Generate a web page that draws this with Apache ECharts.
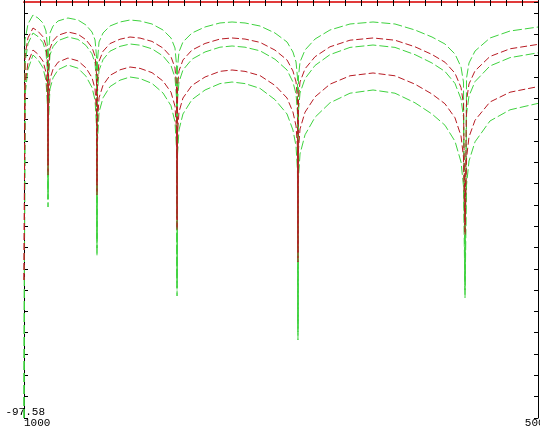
<!DOCTYPE html>
<html><head><meta charset="utf-8">
<script src="https://cdn.jsdelivr.net/npm/echarts@6/dist/echarts.min.js"></script>
<style>html,body{margin:0;padding:0;background:#fff}#c{width:540px;height:426px}</style>
</head><body><div id="c"></div>
<script>
const freqs = [1000,1008,1031,1070,1109,1148,1171,1183,1187,1191,1202,1226,1265,1342,1420,1482,1529,1553,1564,1568,1572,1584,1615,1669,1747,1825,1903,1996,2082,2144,2175,2187,2191,2195,2206,2237,2307,2409,2525,2619,2720,2837,2953,3047,3093,3117,3128,3132,3136,3148,3187,3265,3381,3537,3716,3887,4043,4175,4276,4354,4401,4420,4432,4444,4463,4510,4626,4782,5000];

const green1 = [-97.58,
 -8.91,-5.16,-3.05,-3.75,-4.93,-6.80,-10.56,
 -44.33,
 -11.96,-7.27,-5.63,-4.45,-3.75,-4.22,-5.39,-7.03,-8.91,-12.66,
 -55.83,
 -13.60,-9.38,-7.27,-5.63,-4.69,-4.22,-4.45,-5.16,-6.57,-8.44,-10.79,-14.78,
 -65.21,
 -15.25,-11.73,-9.38,-7.27,-5.86,-4.92,-4.69,-4.92,-5.63,-7.27,-9.38,-11.73,-14.07,-17.59,
 -75.53,
 -17.59,-14.07,-11.26,-8.68,-6.57,-5.16,-4.69,-5.16,-6.57,-8.21,-9.85,-12.20,-15.25,-18.76,
 -65.68,
 -17.83,-14.31,-11.50,-8.45,-6.81,-5.87];

const red1 = [-65.21,
 -12.55,-8.42,-6.10,-6.87,-8.17,-10.23,-14.36,
 -38.23,
 -16.07,-10.91,-9.11,-7.81,-7.04,-7.56,-8.84,-10.65,-12.72,-16.84,
 -42.93,
 -18.53,-13.89,-11.57,-9.76,-8.73,-8.21,-8.46,-9.24,-10.80,-12.85,-15.44,-19.83,
 -51.14,
 -20.06,-16.18,-13.60,-11.28,-9.73,-8.69,-8.44,-8.69,-9.47,-11.28,-13.60,-16.18,-18.76,-22.63,
 -58.64,
 -22.63,-18.76,-15.67,-12.83,-10.51,-8.96,-8.44,-8.96,-10.51,-12.31,-14.12,-16.70,-20.06,-23.92,
 -52.31,
 -23.10,-19.23,-16.14,-12.78,-10.98,-9.94];

const green2 = [-97.58,
 -14.30,-9.80,-7.27,-8.11,-9.53,-11.77,-16.28,
 -46.21,
 -18.06,-12.43,-10.47,-9.05,-8.21,-8.77,-10.18,-12.15,-14.40,-18.90,
 -57.70,
 -21.11,-16.04,-13.51,-11.54,-10.41,-9.85,-10.13,-10.98,-12.67,-14.91,-17.73,-22.52,
 -67.09,
 -22.99,-18.77,-15.95,-13.42,-11.72,-10.60,-10.32,-10.60,-11.45,-13.42,-15.95,-18.77,-21.58,-25.80,
 -77.41,
 -25.57,-21.35,-17.97,-14.88,-12.35,-10.65,-10.09,-10.65,-12.35,-14.31,-16.28,-19.10,-22.76,-26.97,
 -67.56,
 -26.27,-22.05,-18.67,-15.01,-13.05,-11.92];

const red2 = [-65.21,
 -19.46,-14.21,-11.26,-12.24,-13.89,-16.51,-21.77,
 -40.58,
 -24.63,-18.07,-15.77,-14.12,-13.14,-13.80,-15.44,-17.73,-20.36,-25.61,
 -45.27,
 -28.38,-22.47,-19.52,-17.22,-15.91,-15.25,-15.57,-16.57,-18.54,-21.16,-24.45,-30.03,
 -53.48,
 -30.73,-25.81,-22.52,-19.56,-17.59,-16.27,-15.95,-16.27,-17.27,-19.56,-22.52,-25.81,-29.08,-34.01,
 -60.99,
 -34.71,-29.78,-25.85,-22.24,-19.28,-17.31,-16.65,-17.31,-19.28,-21.58,-23.87,-27.16,-31.43,-36.35,
 -54.65,
 -36.59,-31.66,-27.73,-23.46,-21.16,-19.85];

const green3 = [-97.58,
 -21.81,-15.81,-12.43,-13.55,-15.44,-18.43,-24.45,
 -48.09,
 -27.92,-20.41,-17.79,-15.90,-14.78,-15.53,-17.40,-20.03,-23.04,-29.04,
 -59.58,
 -32.60,-25.85,-22.47,-19.85,-18.34,-17.59,-17.96,-19.09,-21.35,-24.34,-28.10,-34.49,
 -68.96,
 -35.67,-30.03,-26.27,-22.90,-20.64,-19.14,-18.77,-19.14,-20.27,-22.90,-26.27,-30.03,-33.78,-39.41,
 -79.28,
 -41.28,-35.65,-31.15,-27.02,-23.65,-21.39,-20.64,-21.39,-23.65,-26.27,-28.90,-32.66,-37.54,-43.15,
 -69.43,
 -42.92,-37.29,-32.79,-27.91,-25.29,-23.78];

const xMin = 1000, xMax = 5000;
const yMin = -97.58, yMax = 0;
const xTickLabels = ['1000', '5000'];
const yTickLabels = ['-97.58'];

const GREEN = '#3fd23f', RED = '#b81c24';
function mk(name, vals, color, dash) {
  return { name, type: 'line', symbol: 'none', animation: false,
    data: freqs.map((f, i) => [f, vals[i]]),
    lineStyle: { color, width: 1, type: dash } };
}

const chart = echarts.init(document.getElementById('c'), null, { renderer: 'canvas' });
const tickStyle = { show: true, inside: true, length: 4, lineStyle: { color: '#000', width: 1 } };
chart.setOption({
  backgroundColor: '#fff',
  animation: false,
  grid: { left: 24, right: 2, top: 2, bottom: 8, containLabel: false, outerBoundsMode: 'none' },
  xAxis: [
    { type: 'value', position: 'bottom', min: xMin, max: xMax, interval: 125,
      axisLine: { lineStyle: { color: '#000', width: 1 } },
      axisTick: tickStyle, splitLine: { show: false },
      axisLabel: { show: true, margin: 0, fontFamily: 'Liberation Mono', fontSize: 11, color: '#000',
        verticalAlign: 'top', alignMinLabel: 'left', alignMaxLabel: 'center',
        showMinLabel: true, showMaxLabel: true, hideOverlap: false,
        formatter: v => v === xMin ? xTickLabels[0] : (v === xMax ? xTickLabels[1] : '') } },
    { type: 'value', position: 'top', min: xMin, max: xMax, interval: 125,
      axisLine: { show: true, lineStyle: { color: '#e03a3a', width: 2 } },
      axisTick: tickStyle, splitLine: { show: false }, axisLabel: { show: false } }
  ],
  yAxis: [
    { type: 'value', position: 'left', min: yMin, max: yMax, interval: 5,
      axisLine: { show: true, lineStyle: { color: '#000', width: 1 } },
      axisTick: tickStyle, splitLine: { show: false },
      axisLabel: { show: true, margin: -21, align: 'right', verticalAlign: 'bottom',
        fontFamily: 'Liberation Mono', fontSize: 11, color: '#000',
        showMinLabel: true, showMaxLabel: false,
        formatter: v => v === yMin ? yTickLabels[0] : '' } },
    { type: 'value', position: 'right', min: yMin, max: yMax, interval: 5,
      axisLine: { show: true, lineStyle: { color: '#000', width: 1 } },
      axisTick: tickStyle, splitLine: { show: false }, axisLabel: { show: false } }
  ],
  series: [
    mk('g1', green1, GREEN, [9, 3]),
    mk('g2', green2, GREEN, [9, 3]),
    mk('g3', green3, GREEN, [9, 3]),
    mk('r1', red1, RED, [7, 3]),
    mk('r2', red2, RED, [7, 3])
  ]
});
</script></body></html>
